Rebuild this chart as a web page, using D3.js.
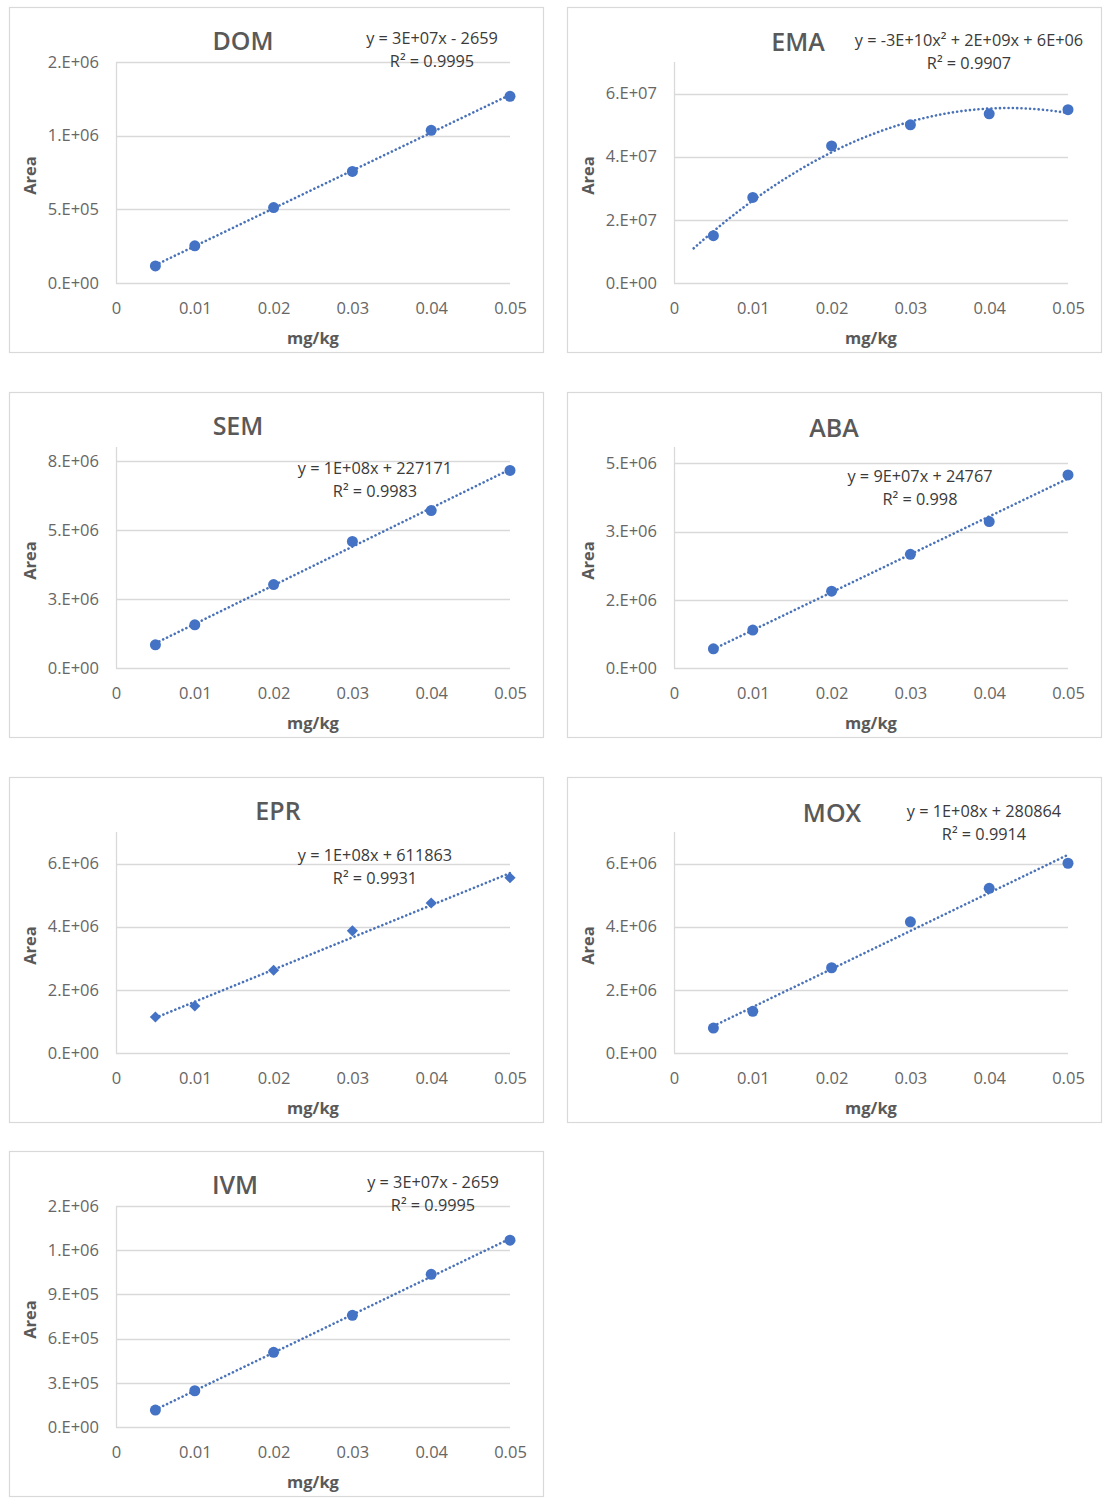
<!DOCTYPE html>
<html>
<head>
<meta charset="utf-8">
<script src="https://cdn.jsdelivr.net/npm/d3@7"></script>
<style>
  html, body { margin: 0; padding: 0; background: #ffffff; }
  svg { display: block; }
  text { font-family: "Open Sans", "Noto Sans", sans-serif; }
</style>
</head>
<body>
<svg id="chart" width="1113" height="1510"></svg>
<script>
// ---------------- DATA ----------------
const chartNames = ["DOM", "EMA", "SEM", "ABA", "EPR", "MOX", "IVM"];
const concentration = [0.005, 0.01, 0.02, 0.03, 0.04, 0.05];

const domArea = [116000, 252000, 512000, 757000, 1036000, 1267000];
const emaArea = [15000000, 27100000, 43400000, 50100000, 53600000, 54900000];
const semArea = [840000, 1565000, 3020000, 4580000, 5700000, 7150000];
const abaArea = [422000, 833000, 1690000, 2500000, 3220000, 4245000];
const eprArea = [1140000, 1490000, 2620000, 3870000, 4750000, 5550000];
const moxArea = [790000, 1320000, 2700000, 4155000, 5215000, 6010000];
const ivmArea = [115000, 246000, 507000, 758000, 1036000, 1268000];

const xTicks = [0, 0.01, 0.02, 0.03, 0.04, 0.05];
const xTickLabels = ["0", "0.01", "0.02", "0.03", "0.04", "0.05"];

const domYTicks = [0, 500000, 1000000, 1500000];
const domYTickLabels = ["0.E+00", "5.E+05", "1.E+06", "2.E+06"];
const emaYTicks = [0, 20000000, 40000000, 60000000];
const emaYTickLabels = ["0.E+00", "2.E+07", "4.E+07", "6.E+07"];
const semYTicks = [0, 2500000, 5000000, 7500000];
const semYTickLabels = ["0.E+00", "3.E+06", "5.E+06", "8.E+06"];
const abaYTicks = [0, 1500000, 3000000, 4500000];
const abaYTickLabels = ["0.E+00", "2.E+06", "3.E+06", "5.E+06"];
const eprYTicks = [0, 2000000, 4000000, 6000000];
const eprYTickLabels = ["0.E+00", "2.E+06", "4.E+06", "6.E+06"];
const moxYTicks = [0, 2000000, 4000000, 6000000];
const moxYTickLabels = ["0.E+00", "2.E+06", "4.E+06", "6.E+06"];
const ivmYTicks = [0, 300000, 600000, 900000, 1200000, 1500000];
const ivmYTickLabels = ["0.E+00", "3.E+05", "6.E+05", "9.E+05", "1.E+06", "2.E+06"];

const yAxisMax = [1500000, 70000000, 8000000, 4860000, 7000000, 7000000, 1500000];

const equationLabels = [
  "y = 3E+07x - 2659",
  "y = -3E+10x\u00B2 + 2E+09x + 6E+06",
  "y = 1E+08x + 227171",
  "y = 9E+07x + 24767",
  "y = 1E+08x + 611863",
  "y = 1E+08x + 280864",
  "y = 3E+07x - 2659"
];
const rSquaredLabels = ["R\u00B2 = 0.9995", "R\u00B2 = 0.9907", "R\u00B2 = 0.9983", "R\u00B2 = 0.998", "R\u00B2 = 0.9931", "R\u00B2 = 0.9914", "R\u00B2 = 0.9995"];
const fitDegree = [1, 2, 1, 1, 1, 1, 1];
const trendStart = [0.005, 0.0025, 0.005, 0.005, 0.005, 0.005, 0.005];
const markerShape = ["circle", "circle", "circle", "circle", "diamond", "circle", "circle"];
const xAxisTitle = "mg/kg";
const yAxisTitle = "Area";

const seriesValues = [domArea, emaArea, semArea, abaArea, eprArea, moxArea, ivmArea];
const yTickValues = [domYTicks, emaYTicks, semYTicks, abaYTicks, eprYTicks, moxYTicks, ivmYTicks];
const yTickTexts = [domYTickLabels, emaYTickLabels, semYTickLabels, abaYTickLabels, eprYTickLabels, moxYTickLabels, ivmYTickLabels];

// ---------------- LAYOUT ----------------
const panelColX = [9, 567];
const panelRowY = [7, 392, 777, 1151];
const panelW = 534, panelH = 345;
const plotLeft = 107, plotWidth = 394, plotTop = 55, plotHeight = 221;
const titlePos = [[234, 34], [231, 35], [229, 34], [267, 36], [269, 34], [265, 36], [226, 34]];
const eqPos = [[423, 31], [402, 33], [366, 76], [353, 84], [366, 78], [417, 34], [424, 31]];

const blue = "#4472C4";
const textGray = "#595959";
const gridGray = "#d9d9d9";

// least squares polynomial fit (trendline as drawn by the spreadsheet)
function polyFit(xs, ys, deg) {
  const n = deg + 1;
  const A = Array.from({length: n}, () => new Array(n + 1).fill(0));
  for (let k = 0; k < xs.length; k++) {
    for (let i = 0; i < n; i++) {
      for (let j = 0; j < n; j++) A[i][j] += Math.pow(xs[k], i + j);
      A[i][n] += ys[k] * Math.pow(xs[k], i);
    }
  }
  for (let c = 0; c < n; c++) {
    let p = c;
    for (let r = c + 1; r < n; r++) if (Math.abs(A[r][c]) > Math.abs(A[p][c])) p = r;
    [A[c], A[p]] = [A[p], A[c]];
    for (let r = 0; r < n; r++) {
      if (r === c) continue;
      const f = A[r][c] / A[c][c];
      for (let j = c; j <= n; j++) A[r][j] -= f * A[c][j];
    }
  }
  return A.map((row, i) => row[n] / row[i]);
}

const svg = d3.select("#chart");

chartNames.forEach((name, i) => {
  const px = panelColX[i % 2];
  const py = panelRowY[Math.floor(i / 2)];
  const g = svg.append("g").attr("transform", `translate(${px},${py})`);

  g.append("rect")
    .attr("x", 0.5).attr("y", 0.5)
    .attr("width", panelW).attr("height", panelH)
    .attr("fill", "#fff").attr("stroke", gridGray).attr("stroke-width", 1.2);

  const x = d3.scaleLinear().domain([0, 0.05]).range([plotLeft, plotLeft + plotWidth]);
  const y = d3.scaleLinear().domain([0, yAxisMax[i]]).range([plotTop + plotHeight, plotTop]);

  // gridlines
  g.append("g").selectAll("line.grid")
    .data(yTickValues[i])
    .join("line")
    .attr("x1", plotLeft).attr("x2", plotLeft + plotWidth)
    .attr("y1", d => Math.round(y(d)) + 0.5).attr("y2", d => Math.round(y(d)) + 0.5)
    .attr("stroke", gridGray).attr("stroke-width", 1.3);

  // vertical axis line
  g.append("line")
    .attr("x1", plotLeft + 0.5).attr("x2", plotLeft + 0.5)
    .attr("y1", plotTop).attr("y2", plotTop + plotHeight)
    .attr("stroke", gridGray).attr("stroke-width", 1.3);

  // y tick labels
  const yAxis = d3.axisLeft(y).tickValues(yTickValues[i])
    .tickFormat((d, k) => yTickTexts[i][k]).tickSize(0).tickPadding(17);
  const gy = g.append("g").attr("transform", `translate(${plotLeft},0)`).call(yAxis);
  gy.select(".domain").remove();
  gy.selectAll(".tick text")
    .attr("font-size", 16.5)
    .attr("font-family", "Open Sans, sans-serif")
    .attr("fill", "#666666");

  // x tick labels
  const xAxis = d3.axisBottom(x).tickValues(xTicks)
    .tickFormat((d, k) => xTickLabels[k]).tickSize(0).tickPadding(0);
  const gx = g.append("g").attr("transform", `translate(0,${plotTop + plotHeight})`).call(xAxis);
  gx.select(".domain").remove();
  gx.selectAll(".tick text")
    .attr("y", 25).attr("dy", "0.36em")
    .attr("font-size", 16.5)
    .attr("font-family", "Open Sans, sans-serif")
    .attr("fill", "#666666");

  // trendline
  const coef = polyFit(concentration, seriesValues[i], fitDegree[i]);
  const evalFit = xv => coef.reduce((s, c, k) => s + c * Math.pow(xv, k), 0);
  const xs = d3.range(0, 101).map(k => trendStart[i] + (0.05 - trendStart[i]) * k / 100);
  const line = d3.line().x(d => x(d)).y(d => y(evalFit(d)));
  g.append("path")
    .attr("d", line(xs))
    .attr("fill", "none")
    .attr("stroke", "#4a72b8")
    .attr("stroke-width", 2.6)
    .attr("stroke-linecap", "round")
    .attr("stroke-dasharray", "0.1 4.2");

  // markers
  const pts = concentration.map((c, k) => [c, seriesValues[i][k]]);
  if (markerShape[i] === "diamond") {
    g.append("g").selectAll("path")
      .data(pts)
      .join("path")
      .attr("transform", d => `translate(${x(d[0])},${y(d[1])}) rotate(45)`)
      .attr("d", d3.symbol().type(d3.symbolSquare).size(62))
      .attr("fill", blue);
  } else {
    g.append("g").selectAll("circle")
      .data(pts)
      .join("circle")
      .attr("cx", d => x(d[0]))
      .attr("cy", d => y(d[1]))
      .attr("r", 5.5)
      .attr("fill", blue);
  }

  // title
  g.append("text")
    .attr("x", titlePos[i][0]).attr("y", titlePos[i][1])
    .attr("dy", "0.36em")
    .attr("text-anchor", "middle")
    .attr("font-size", 25)
    .attr("font-weight", 600)
    .attr("fill", textGray)
    .text(name);

  // equation labels
  g.append("text")
    .attr("x", eqPos[i][0]).attr("y", eqPos[i][1])
    .attr("dy", "0.36em")
    .attr("text-anchor", "middle")
    .attr("font-size", 16.3)
    .attr("fill", "#3a3a3a")
    .text(equationLabels[i]);
  g.append("text")
    .attr("x", eqPos[i][0]).attr("y", eqPos[i][1] + 23)
    .attr("dy", "0.36em")
    .attr("text-anchor", "middle")
    .attr("font-size", 16.3)
    .attr("fill", "#3a3a3a")
    .text(rSquaredLabels[i]);

  // axis titles
  g.append("text")
    .attr("x", plotLeft + plotWidth / 2).attr("y", 331)
    .attr("dy", "0.36em")
    .attr("text-anchor", "middle")
    .attr("font-size", 16.5)
    .attr("font-weight", 700)
    .attr("fill", textGray)
    .text(xAxisTitle);
  g.append("text")
    .attr("transform", `translate(21,${plotTop + plotHeight / 2 + 3}) rotate(-90)`)
    .attr("dy", "0.36em")
    .attr("text-anchor", "middle")
    .attr("font-size", 16.5)
    .attr("font-weight", 700)
    .attr("fill", textGray)
    .text(yAxisTitle);
});
</script>
</body>
</html>
